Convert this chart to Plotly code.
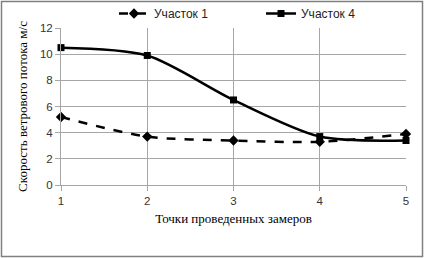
import plotly.graph_objects as go

points = [1, 2, 3, 4, 5]
uchastok1 = [5.2, 3.7, 3.4, 3.3, 3.9]
uchastok4 = [10.5, 9.9, 6.5, 3.7, 3.4]
series_names = ["Участок 1", "Участок 4"]
y_ticks = [0, 2, 4, 6, 8, 10, 12]

W, H = 424, 258
L, R, T, B = 61, 18, 28, 73
pw, ph = W - L - R, H - T - B

fig = go.Figure()
fig.add_trace(go.Scatter(
    x=points, y=uchastok1, name=series_names[0], mode="lines+markers", cliponaxis=False,
    line=dict(color="black", width=2.5, dash="dash", shape="spline", smoothing=0.8),
    marker=dict(symbol="diamond", size=8, color="black"), legend="legend",
))
fig.add_trace(go.Scatter(
    x=points, y=uchastok4, name=series_names[1], mode="lines+markers", cliponaxis=False,
    line=dict(color="black", width=2.5, shape="spline", smoothing=0.8),
    marker=dict(symbol="square", size=7, color="black"), legend="legend2",
))

axis_font = dict(family="Liberation Sans, Arial", size=11.5, color="#333333")
leg_font = dict(family="Liberation Sans, Arial", size=12, color="#222222")
fig.update_layout(
    width=W, height=H,
    margin=dict(l=L, r=R, t=T, b=B, autoexpand=False),
    paper_bgcolor="white", plot_bgcolor="white",
    showlegend=True,
    legend=dict(orientation="h", x=(114 - L) / pw, xanchor="left", y=1, yanchor="bottom",
                font=leg_font, bgcolor="rgba(0,0,0,0)"),
    legend2=dict(orientation="h", x=(261 - L) / pw, xanchor="left", y=1, yanchor="bottom",
                 font=leg_font, bgcolor="rgba(0,0,0,0)"),
    xaxis=dict(range=[1, 5], tickvals=points, showgrid=True, gridcolor="#a6a6a6",
               gridwidth=1, showline=True, linecolor="#a6a6a6", ticks="outside",
               tickcolor="#a6a6a6", ticklen=5, tickfont=axis_font, zeroline=False,
               automargin=False,
               title=dict(text="Точки проведенных замеров",
                          font=dict(family="Liberation Serif, Times New Roman", size=13, color="black"),
                          standoff=8)),
    yaxis=dict(range=[0, 12], tickvals=y_ticks, showgrid=True, gridcolor="#a6a6a6",
               gridwidth=1, showline=True, linecolor="#a6a6a6", ticks="outside",
               tickcolor="#a6a6a6", ticklen=5, tickfont=axis_font, zeroline=False,
               automargin=False,
               title=dict(text="Скорость ветрового потока м/с",
                          font=dict(family="Liberation Serif, Times New Roman", size=13, color="black"),
                          standoff=9)),
)

fig.add_shape(type="rect", xref="paper", yref="paper",
              x0=(1.5 - L) / pw, x1=(W - 1.5 - L) / pw,
              y0=(1.5 - B) / ph, y1=(H - 1.5 - B) / ph,
              line=dict(color="#808080", width=1.5), fillcolor="rgba(0,0,0,0)", layer="above")

fig.write_html("out.html", config={"displayModeBar": False},
               post_script="document.body.style.margin='0';document.body.style.overflow='hidden';")
